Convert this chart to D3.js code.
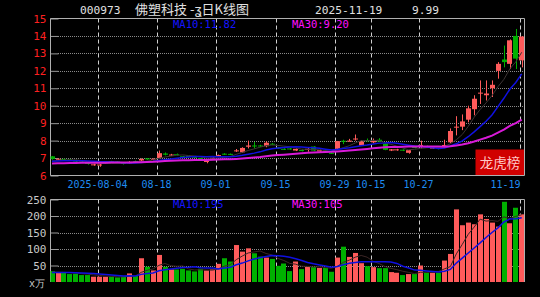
<!DOCTYPE html>
<html>
<head>
<meta charset="utf-8">
<script src="https://cdn.jsdelivr.net/npm/d3@7"></script>
<style>
  body { margin: 0; background: #000; }
  svg { display: block; }
</style>
</head>
<body>
<script>
// daily bars, 2025-07-23 .. 2025-11-19
const dates = [
  "2025-07-23","2025-07-24","2025-07-25","2025-07-28","2025-07-29","2025-07-30","2025-07-31","2025-08-01",
  "2025-08-04","2025-08-05","2025-08-06","2025-08-07","2025-08-08",
  "2025-08-11","2025-08-12","2025-08-13","2025-08-14","2025-08-15",
  "2025-08-18","2025-08-19","2025-08-20","2025-08-21","2025-08-22",
  "2025-08-25","2025-08-26","2025-08-27","2025-08-28","2025-08-29",
  "2025-09-01","2025-09-02","2025-09-03","2025-09-04","2025-09-05",
  "2025-09-08","2025-09-09","2025-09-10","2025-09-11","2025-09-12",
  "2025-09-15","2025-09-16","2025-09-17","2025-09-18","2025-09-19",
  "2025-09-22","2025-09-23","2025-09-24","2025-09-25","2025-09-26",
  "2025-09-29","2025-09-30","2025-10-09","2025-10-10",
  "2025-10-13","2025-10-14","2025-10-15","2025-10-16","2025-10-17",
  "2025-10-20","2025-10-21","2025-10-22","2025-10-23","2025-10-24",
  "2025-10-27","2025-10-28","2025-10-29","2025-10-30","2025-10-31",
  "2025-11-03","2025-11-04","2025-11-05","2025-11-06","2025-11-07",
  "2025-11-10","2025-11-11","2025-11-12","2025-11-13","2025-11-14",
  "2025-11-17","2025-11-18","2025-11-19"
];
const opens = [
  7.10,6.92,6.95,6.92,6.88,6.80,6.72,6.62, 6.60,6.70,6.82,6.80,6.72, 6.70,6.82,6.86,6.98,6.93,
  7.00,7.26,7.17,7.22,7.10, 7.12,7.08,7.00,6.80,6.98, 7.12,7.25,7.24,7.40,7.33, 7.65,7.72,7.72,7.68,7.82,
  7.60,7.53,7.55,7.43,7.46, 7.50,7.66,7.38,7.43,7.30, 7.53,7.99,7.98,8.10, 7.72,8.02,7.90,8.05,7.82,
  7.43,7.47,7.48,7.30,7.64, 7.72,7.68,7.55,7.58,7.70, 7.90,8.76,8.80,9.20,9.80,
  10.70,10.60,11.00,12.00,12.65, 12.40,14.00,12.60
];
const highs = [
  7.12,6.98,6.97,6.95,6.90,6.83,6.74,6.68, 6.68,6.80,6.84,6.82,6.74, 6.82,6.86,6.98,7.00,6.98,
  7.43,7.32,7.24,7.26,7.12, 7.15,7.10,7.02,6.86,7.04, 7.20,7.28,7.26,7.52,7.62, 8.00,7.92,7.76,7.96,7.86,
  7.64,7.56,7.58,7.56,7.50, 7.58,7.68,7.48,7.46,7.33, 7.98,8.05,8.10,8.35, 8.02,8.12,8.12,8.14,7.86,
  7.52,7.53,7.50,7.46,7.66, 8.00,7.72,7.64,7.60,8.05, 8.70,9.40,9.50,10.00,10.60,
  11.45,11.45,11.45,12.50,13.45, 13.80,14.40,13.97
];
const lows = [
  6.90,6.90,6.86,6.86,6.78,6.72,6.62,6.56, 6.50,6.68,6.76,6.70,6.63, 6.68,6.76,6.82,6.90,6.90,
  6.98,7.15,7.12,7.15,7.02, 7.06,7.02,6.92,6.70,6.95, 7.08,7.18,7.17,7.35,7.30, 7.55,7.55,7.64,7.62,7.74,
  7.52,7.46,7.48,7.40,7.38, 7.36,7.40,7.35,7.30,7.24, 7.50,7.80,7.95,8.00, 7.70,7.96,7.85,7.92,7.45,
  7.40,7.42,7.40,7.25,7.56, 7.55,7.62,7.53,7.50,7.66, 7.85,8.30,8.60,9.05,9.45,
  10.10,10.30,10.50,11.55,12.20, 12.10,12.10,12.20
];
const closes = [
  6.95,6.96,6.90,6.88,6.80,6.76,6.67,6.64, 6.63,6.76,6.79,6.72,6.67, 6.78,6.80,6.95,6.93,6.96,
  7.28,7.19,7.20,7.18,7.05, 7.09,7.05,6.96,6.83,7.02, 7.17,7.22,7.21,7.44,7.58, 7.72,7.68,7.69,7.88,7.78,
  7.57,7.50,7.52,7.53,7.43, 7.53,7.43,7.45,7.33,7.28, 7.97,7.96,8.00,8.12, 7.95,7.98,8.02,7.95,7.47,
  7.50,7.50,7.45,7.45,7.62, 7.75,7.65,7.60,7.55,7.75, 8.55,8.80,9.10,9.85,10.40,
  10.75,10.70,11.20,12.40,12.50, 13.75,12.70,13.97
];
// volume, x万
const volumes = [
  33,28,28,24,25,21,21,16, 16,16,16,14,16, 26,18,72,46,35,
  82,46,38,38,40, 35,32,40,35,38, 55,72,62,112,92, 102,87,77,74,70,
  49,56,33,62,39, 46,46,43,43,31, 74,107,76,88, 57,48,45,42,42,
  30,28,21,24,24, 50,28,28,28,65, 85,220,172,180,175,
  205,191,180,168,243, 178,225,205
];
// sessions before the window, only used to seed the moving averages
const prevCloses = [
  6.60,6.63,6.58,6.61,6.65,6.62,6.60,6.64,6.66,6.61,6.59,6.62,6.63,6.60,6.64,6.62,6.61,6.65,6.63,6.62,
  6.78,6.80,6.82,6.79,6.81,6.80,6.78,6.82,6.80
];
const prevVolumes = [
  32,30,34,29,31,33,30,28,32,31,130,150,100,30,31,33,29,32,31,
  28,27,30,29,27,28,30,29,29
];

const priceTicks = [6,7,8,9,10,11,12,13,14,15];
const volumeTicks = [50,100,150,200,250];
const dateTicks = ["2025-08-04","2025-08-18","2025-09-01","2025-09-15","2025-09-29","2025-10-15","2025-10-27","2025-11-19"];
const dateTickLabels = ["2025-08-04","08-18","09-01","09-15","09-29","10-15","10-27","11-19"];

const stockCode = "000973";
const stockTitle = "佛塑科技 -ʓ日K线图";
const lastDate = "2025-11-19";
const lastChange = "9.99";

const W = 540, H = 297;
const L = 50, R = 524;
const pTop = 18.5, pBot = 175.5;
const vTop = 199.5, vBot = 282;

const UP = "#ff5b5b", DOWN = "#00b000";
const MONO = "'DejaVu Sans Mono', monospace";

function movingAvg(vals, prev, n) {
  const all = prev.concat(vals);
  return vals.map((v, i) => d3.mean(all.slice(prev.length + i - n + 1, prev.length + i + 1)));
}

const bars = dates.map((d, i) => ({
  date: d, open: opens[i], high: highs[i], low: lows[i], close: closes[i], vol: volumes[i]
}));

const ma5 = movingAvg(closes, prevCloses, 5);
const ma10 = movingAvg(closes, prevCloses, 10);
const ma30 = movingAvg(closes, prevCloses, 30);
const vma5 = movingAvg(volumes, prevVolumes, 5);
const vma10 = movingAvg(volumes, prevVolumes, 10);
const vma30 = movingAvg(volumes, prevVolumes, 30);

const x = d3.scaleBand().domain(dates).range([49.6, 524.1]).paddingInner(0.2);
const cx = d => x(d) + x.bandwidth() / 2;
const yP = d3.scaleLinear().domain([6, 15]).range([pBot, pTop]);
const yV = d3.scaleLinear().domain([0, 250]).range([vBot, vTop]);

const svg = d3.select("body").append("svg")
  .attr("width", W).attr("height", H);

svg.append("rect").attr("width", W).attr("height", H).attr("fill", "#000");

const defs = svg.append("defs");
defs.append("clipPath").attr("id", "clipP")
  .append("rect").attr("x", L + 0.5).attr("y", pTop - 1).attr("width", R - L - 0.5).attr("height", pBot - pTop + 1);
defs.append("clipPath").attr("id", "clipV")
  .append("rect").attr("x", L + 0.5).attr("y", vTop).attr("width", R - L - 0.5).attr("height", vBot - vTop);

// title
const title = svg.append("g").attr("fill", "#e0e0e0");
title.append("text").attr("x", 80).attr("y", 13.5).attr("font-family", MONO).attr("font-size", 11.2).text(stockCode);
title.append("text").attr("x", 135).attr("y", 14).attr("font-family", "'Noto Sans CJK SC', sans-serif").attr("font-size", 13).text(stockTitle);
title.append("text").attr("x", 315).attr("y", 13.5).attr("font-family", MONO).attr("font-size", 11.2).text(lastDate);
title.append("text").attr("x", 412).attr("y", 13.5).attr("font-family", MONO).attr("font-size", 11.2).text(lastChange);

// ---- grid + frames
function hGrid(g, scale, ticks) {
  g.selectAll("line.grid").data(ticks).enter().append("line")
    .attr("x1", L + 8).attr("x2", R)
    .attr("y1", d => Math.round(scale(d)) + 0.5).attr("y2", d => Math.round(scale(d)) + 0.5)
    .attr("stroke", "#8a8a8a").attr("stroke-dasharray", "1,1");
}
const gridP = svg.append("g");
hGrid(gridP, yP, priceTicks.slice(1, -1));
const gridV = svg.append("g");
hGrid(gridV, yV, volumeTicks.slice(0, -1));

// date dividers
const vx = d => Math.round(cx(d) - 2) + 0.5;
svg.append("g").selectAll("line").data(dateTicks).enter().append("line")
  .attr("x1", vx).attr("x2", vx).attr("y1", pTop).attr("y2", pBot)
  .attr("stroke", "#cfcfcf").attr("stroke-dasharray", "4,3");
svg.append("g").selectAll("line").data(dateTicks).enter().append("line")
  .attr("x1", vx).attr("x2", vx).attr("y1", vTop).attr("y2", vBot)
  .attr("stroke", "#cfcfcf").attr("stroke-dasharray", "4,3");

// ---- price axis
const axP = svg.append("g").attr("transform", `translate(${L + 0.5},0)`)
  .call(d3.axisLeft(yP).tickValues(priceTicks).tickSize(-8).tickPadding(4).tickFormat(d3.format("d")));
axP.select(".domain").remove();
axP.selectAll("line").attr("stroke", "#9a9a9a");
axP.selectAll("text").attr("fill", "#ff2020").attr("font-family", MONO).attr("font-size", 11);

// ---- volume axis
const axV = svg.append("g").attr("transform", `translate(${L + 0.5},0)`)
  .call(d3.axisLeft(yV).tickValues(volumeTicks).tickSize(-8).tickPadding(4).tickFormat(d3.format("d")));
axV.select(".domain").remove();
axV.selectAll("line").attr("stroke", "#9a9a9a");
axV.selectAll("text").attr("fill", "#c8c8c8").attr("font-family", MONO).attr("font-size", 11);
svg.append("text").attr("x", 29).attr("y", 287).attr("fill", "#c8c8c8")
  .attr("font-family", MONO).attr("font-size", 10).text("x万");

// frames
svg.append("path")
  .attr("d", `M${L + 0.5},${pTop}V${pBot}H${R + 0.5}V${pTop}H${L + 0.5}`)
  .attr("fill", "none").attr("stroke", "#b0b0b0");
svg.append("path")
  .attr("d", `M${L + 0.5},${vBot}V${vTop}H${R + 0.5}V${vBot}`)
  .attr("fill", "none").attr("stroke", "#b0b0b0");

// date labels
svg.append("g").selectAll("text").data(dateTicks).enter().append("text")
  .attr("x", (d, i) => i === dateTicks.length - 1 ? vx(d) : vx(d) - 1)
  .attr("y", 188)
  .attr("text-anchor", (d, i) => i === dateTicks.length - 1 ? "end" : "middle")
  .attr("fill", "#1e8cf0").attr("font-family", MONO).attr("font-size", 10)
  .text((d, i) => dateTickLabels[i]);

// ---- candles
const gc = svg.append("g").attr("clip-path", "url(#clipP)");
const candle = gc.selectAll("g").data(bars).enter().append("g")
  .attr("fill", d => d.close >= d.open ? UP : DOWN)
  .attr("stroke", d => d.close >= d.open ? UP : DOWN);
candle.append("line")
  .attr("x1", d => Math.round(cx(d.date)) + 0.5).attr("x2", d => Math.round(cx(d.date)) + 0.5)
  .attr("y1", d => yP(d.high)).attr("y2", d => yP(d.low));
candle.append("rect")
  .attr("stroke", "none")
  .attr("x", d => Math.round(x(d.date)))
  .attr("width", Math.round(x.bandwidth()))
  .attr("y", d => yP(Math.max(d.open, d.close)))
  .attr("height", d => Math.max(1, Math.abs(yP(d.open) - yP(d.close))));

// moving averages (price)
const lineP = arr => d3.line().x((d, i) => cx(dates[i])).y(d => yP(d))(arr);
gc.append("path").attr("d", lineP(ma5)).attr("fill", "none").attr("stroke", "#3c3434").attr("stroke-width", 1);
gc.append("path").attr("d", lineP(ma10)).attr("fill", "none").attr("stroke", "#1010e0").attr("stroke-width", 1.5);
gc.append("path").attr("d", lineP(ma30)).attr("fill", "none").attr("stroke", "#d81ad8").attr("stroke-width", 2);

// ---- volume bars
const gv = svg.append("g").attr("clip-path", "url(#clipV)");
gv.selectAll("rect").data(bars).enter().append("rect")
  .attr("x", d => Math.round(x(d.date)))
  .attr("width", Math.round(x.bandwidth()))
  .attr("y", d => yV(d.vol))
  .attr("height", d => vBot - yV(d.vol))
  .attr("fill", d => d.close >= d.open ? UP : DOWN);

const lineV = arr => d3.line().x((d, i) => cx(dates[i])).y(d => yV(d))(arr);
gv.append("path").attr("d", lineV(vma5)).attr("fill", "none").attr("stroke", "#3c2626").attr("stroke-width", 1);
gv.append("path").attr("d", lineV(vma10)).attr("fill", "none").attr("stroke", "#1010e0").attr("stroke-width", 1.5);
gv.append("path").attr("d", lineV(vma30)).attr("fill", "none").attr("stroke", "#e020e0").attr("stroke-width", 1.5);

// ---- MA legends
const last = dates.length - 1;
svg.append("text").attr("x", 173).attr("y", 27.5).attr("fill", "#1414ff")
  .attr("font-family", MONO).attr("font-size", 10.5).text("MA10:" + ma10[last].toFixed(2));
svg.append("text").attr("x", 292).attr("y", 27.5).attr("fill", "#ff10ff")
  .attr("font-family", MONO).attr("font-size", 10.5).text("MA30:" + ma30[last].toFixed(2));
svg.append("text").attr("x", 173).attr("y", 208).attr("fill", "#1414ff")
  .attr("font-family", MONO).attr("font-size", 10.5).text("MA10:" + Math.round(vma10[last]));
svg.append("text").attr("x", 292).attr("y", 208).attr("fill", "#ff10ff")
  .attr("font-family", MONO).attr("font-size", 10.5).text("MA30:" + Math.round(vma30[last]));

// 龙虎榜 tag
svg.append("rect").attr("x", 475.5).attr("y", 149.5).attr("width", 48.5).attr("height", 25.5)
  .attr("fill", "#d00000");
svg.append("text").attr("x", 500).attr("y", 167.5).attr("text-anchor", "middle")
  .attr("fill", "#ffc8c8").attr("font-family", "'Noto Sans CJK SC', sans-serif").attr("font-size", 13.5)
  .text("龙虎榜");
</script>
</body>
</html>
